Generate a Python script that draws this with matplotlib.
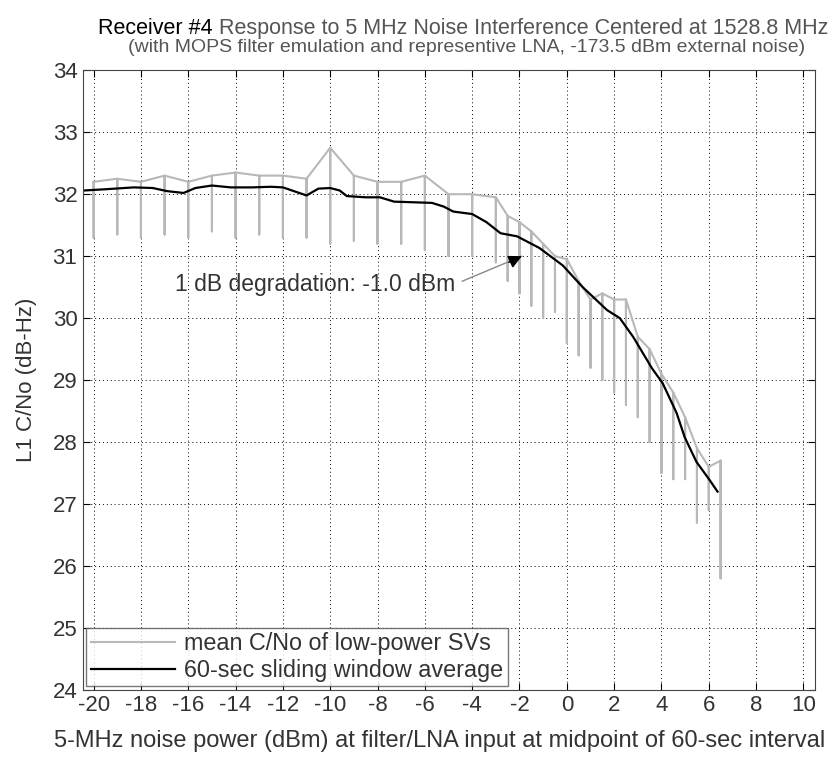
import numpy as np
import matplotlib.pyplot as plt

plt.rcParams['font.family'] = ['Liberation Sans', 'DejaVu Sans']
plt.rcParams['axes.unicode_minus'] = False

# 60-sec sliding window average of C/No
avg_x = [-20.4, -19.5, -18.3, -17.5, -16.9, -16.2, -15.7, -15.0, -14.2, -13.3,
         -12.5, -12.0, -11.0, -10.5, -10.0, -9.6, -9.3, -8.5, -7.9, -7.3,
         -6.5, -5.7, -5.2, -4.8, -4.0, -3.4, -2.8, -2.1, -1.15, -0.17,
         0.67, 1.7, 2.24, 2.8, 3.6, 4.05, 4.64, 4.98, 5.48, 6.03, 6.37]
avg_cn0 = [32.06, 32.08, 32.11, 32.10, 32.05, 32.02, 32.10, 32.14, 32.11, 32.11,
           32.12, 32.11, 31.98, 32.09, 32.10, 32.06, 31.97, 31.95, 31.95, 31.88,
           31.87, 31.86, 31.80, 31.72, 31.68, 31.55, 31.37, 31.32, 31.13, 30.85,
           30.50, 30.13, 30.00, 29.70, 29.19, 28.95, 28.47, 28.08, 27.68, 27.39, 27.20]

# mean C/No of low-power SVs: range swept at each noise step
step_x = [-20, -19, -18, -17, -16, -15, -14, -13, -12, -11, -10, -9, -8, -7, -6, -5, -4, -3,
          -2.5, -2, -1.5, -1, -0.5, 0, 0.5, 1, 1.5, 2, 2.5, 3, 3.5, 4, 4.5, 5, 5.5, 6, 6.5]
step_hi = [32.2, 32.25, 32.2, 32.3, 32.2, 32.3, 32.35, 32.3, 32.3, 32.25, 32.75, 32.3, 32.2,
           32.2, 32.3, 32.0, 32.0, 31.95,
           31.65, 31.55, 31.4, 31.2, 31.0, 30.95, 30.6, 30.3, 30.4, 30.3, 30.3, 29.7, 29.5,
           29.1, 28.8, 28.4, 27.9, 27.6, 27.7]
step_lo = [31.3, 31.35, 31.3, 31.35, 31.3, 31.4, 31.3, 31.35, 31.3, 31.3, 31.2, 31.25, 31.2,
           31.2, 31.1, 31.0, 31.0, 30.9,
           30.6, 30.4, 30.2, 30.0, 30.1, 29.6, 29.4, 29.2, 29.0, 28.8, 28.6, 28.4, 28.0,
           27.5, 27.4, 27.4, 26.7, 26.9, 25.8]

xticks = np.arange(-20, 11, 2)
yticks = np.arange(24, 35, 1)

# 1 dB degradation marker
deg_x, deg_y = -1.9, 31.0

fs = 16
txt = '#333333'

fig = plt.figure(figsize=(8.34, 7.64), dpi=100)
ax = fig.add_axes([0.0995, 0.097, 0.878, 0.811])

# zig-zag trace: top -> bottom -> top at every step
gx, gy = [], []
for x, hi, lo in zip(step_x, step_hi, step_lo):
    gx += [x, x, x]
    gy += [hi, lo, hi]
ax.plot(gx, gy, color='#b8b8b8', lw=1.5, label='mean C/No of low-power SVs')
ax.plot(avg_x, avg_cn0, color='black', lw=1.6, label='60-sec sliding window average')

# gray leader line from the label, black head at the tip
ax.annotate('1 dB degradation: -1.0 dBm', xy=(deg_x, deg_y), xytext=(-16.55, 30.55),
            fontsize=16.5, color=txt, va='center',
            arrowprops=dict(arrowstyle='-', color='#888888', lw=1.0,
                            relpos=(1, 0.5), shrinkA=3, shrinkB=0))
ax.annotate('', xy=(deg_x, deg_y), xytext=(deg_x - 0.55, deg_y - 0.1),
            arrowprops=dict(arrowstyle='-|>', color='black', lw=1.0,
                            mutation_scale=20, shrinkA=0, shrinkB=0))

ax.set_xlim(-20.45, 10.5)
ax.set_ylim(24, 34)
ax.set_xticks(xticks)
ax.set_yticks(yticks)
ax.tick_params(direction='in', top=True, right=True, labelsize=fs,
               labelcolor=txt, length=5, pad=4)
ax.grid(True, color='black', ls=(0, (1, 3)), lw=0.7)
for s in ax.spines.values():
    s.set_color('#444444')

ax.set_xlabel('5-MHz noise power (dBm) at filter/LNA input at midpoint of 60-sec interval',
              fontsize=17, color=txt)
ax.xaxis.set_label_coords(0.487, -0.064, transform=ax.transAxes)
ax.xaxis.label.set_va('top')
ax.set_ylabel('L1 C/No (dB-Hz)', fontsize=fs, color=txt, labelpad=11)

leg = ax.legend(loc='lower left', fontsize=16.8, frameon=True, fancybox=False,
                edgecolor='#555555', borderaxespad=0.15, handlelength=3.6,
                handletextpad=0.4, labelspacing=0.15, borderpad=0.2)
leg.get_frame().set_linewidth(1.0)
for t in leg.get_texts():
    t.set_color(txt)

fig.text(0.255, 0.963, 'Receiver #4', fontsize=15.5, ha='right', va='center', color='black')
fig.text(0.262, 0.963, 'Response to 5 MHz Noise Interference Centered at 1528.8 MHz',
         fontsize=15.5, ha='left', va='center', color='#555555')
fig.text(0.559, 0.938, '(with MOPS filter emulation and representive LNA, -173.5 dBm external noise)',
         fontsize=14, ha='center', va='center', color='#555555')

fig.savefig('out.png', dpi=100)
